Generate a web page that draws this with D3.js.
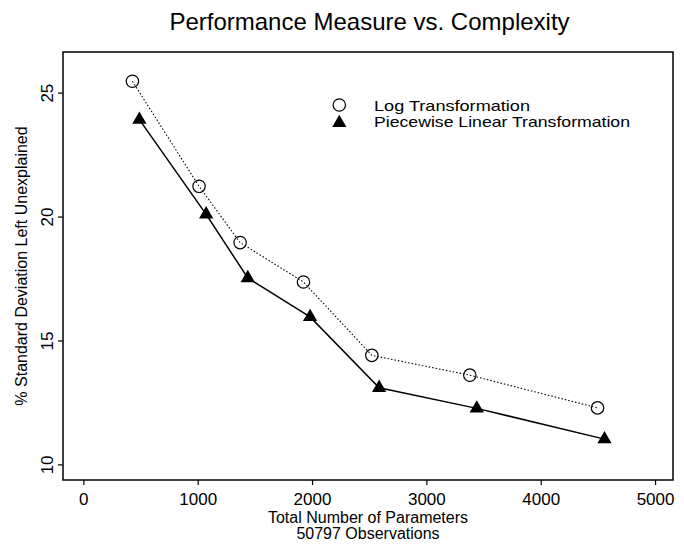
<!DOCTYPE html>
<html>
<head>
<meta charset="utf-8">
<script src="https://cdn.jsdelivr.net/npm/d3@7"></script>
<style>
  html, body { margin: 0; padding: 0; background: #fff; }
  svg { display: block; font-family: "Liberation Sans", Arial, Helvetica, sans-serif; }
</style>
</head>
<body>
<svg id="chart" width="684" height="544"></svg>
<script>
// Performance measure vs. complexity — two transformations compared

const xTicks = [0, 1000, 2000, 3000, 4000, 5000];
const yTicks = [10, 15, 20, 25];

// Log transformation (open circles, dotted line)
const logParams = [429, 1012, 1371, 1925, 2523, 3380, 4497];
const logSd = [25.46, 21.22, 18.95, 17.36, 14.40, 13.60, 12.28];

// Piecewise linear transformation (filled triangles, solid line)
const pwParams = [490, 1074, 1438, 1983, 2587, 3441, 4558];
const pwSd = [23.91, 20.09, 17.52, 15.95, 13.09, 12.26, 11.02];

const seriesNames = ["Log Transformation", "Piecewise Linear Transformation"];
const legendWidths = [156, 256]; // text runs are a bit condensed in the original

const svg = d3.select("#chart");
const margin = { top: 52, left: 63 };
const W = 610, H = 428;

const g = svg.append("g").attr("transform", `translate(${margin.left},${margin.top})`);

const x = d3.scaleLinear().domain([-178, 5157]).range([0, W]);
const y = d3.scaleLinear().domain([9.37, 26.64]).range([H, 0]);

// axes: ticks stick out of the box, labels below / rotated on the left
const xAxis = g.append("g").attr("transform", `translate(0,${H})`)
  .call(d3.axisBottom(x).tickValues(xTicks).tickFormat(d3.format("d"))
    .tickSize(5).tickPadding(8).tickSizeOuter(0));
xAxis.select(".domain").remove();
xAxis.selectAll("text").style("font-size", "17px").attr("fill", "#000");
xAxis.selectAll("line").attr("stroke", "#000").attr("stroke-width", 1.2);

const yAxis = g.append("g")
  .call(d3.axisLeft(y).tickValues(yTicks).tickSize(5).tickSizeOuter(0));
yAxis.select(".domain").remove();
yAxis.selectAll("line").attr("stroke", "#000").attr("stroke-width", 1.2);
yAxis.selectAll("text")
  .attr("x", 0).attr("dy", 0)
  .attr("text-anchor", "middle")
  .attr("transform", "translate(-10,0) rotate(-90)")
  .style("font-size", "17px").attr("fill", "#000");

// frame
g.append("rect").attr("width", W).attr("height", H)
  .attr("fill", "none").attr("stroke", "#000").attr("stroke-width", 1.5);

const logData = logParams.map((p, i) => ({ p, v: logSd[i] }));
const pwData = pwParams.map((p, i) => ({ p, v: pwSd[i] }));
const line = d3.line().x((d) => x(d.p)).y((d) => y(d.v));

g.append("path").datum(logData).attr("d", line)
  .attr("fill", "none").attr("stroke", "#000").attr("stroke-width", 1.1)
  .attr("stroke-dasharray", "1.5,2");
g.append("path").datum(pwData).attr("d", line)
  .attr("fill", "none").attr("stroke", "#000").attr("stroke-width", 1.5);

g.selectAll("circle.log").data(logData).join("circle").attr("class", "log")
  .attr("cx", (d) => x(d.p)).attr("cy", (d) => y(d.v)).attr("r", 6.2)
  .attr("fill", "none").attr("stroke", "#000").attr("stroke-width", 1.2);

const tri = d3.symbol().type(d3.symbolTriangle).size(88);
g.selectAll("path.pw").data(pwData).join("path").attr("class", "pw")
  .attr("d", tri).attr("transform", (d) => `translate(${x(d.p)},${y(d.v)})`)
  .attr("fill", "#000");

// legend
const lg = svg.append("g");
lg.append("circle").attr("cx", 339.3).attr("cy", 105).attr("r", 6.2)
  .attr("fill", "none").attr("stroke", "#000").attr("stroke-width", 1.2);
lg.append("path").attr("d", tri).attr("transform", "translate(339.3,123)").attr("fill", "#000");
seriesNames.forEach((s, i) => {
  lg.append("text").attr("x", 374).attr("y", 111 + i * 16)
    .attr("textLength", legendWidths[i]).attr("lengthAdjust", "spacingAndGlyphs")
    .style("font-size", "15px").attr("fill", "#000").text(s);
});

// titles
svg.append("text").attr("x", 369.5).attr("y", 30).attr("text-anchor", "middle")
  .style("font-size", "24px").attr("fill", "#000").text("Performance Measure vs. Complexity");

svg.append("text").attr("x", margin.left + W / 2).attr("y", 523).attr("text-anchor", "middle")
  .style("font-size", "16px").attr("fill", "#000").text("Total Number of Parameters");
svg.append("text").attr("x", margin.left + W / 2).attr("y", 539).attr("text-anchor", "middle")
  .style("font-size", "16px").attr("fill", "#000").text("50797 Observations");

svg.append("text").attr("transform", `translate(27,${margin.top + H / 2}) rotate(-90)`)
  .attr("text-anchor", "middle").style("font-size", "16px").attr("fill", "#000")
  .text("% Standard Deviation Left Unexplained");
</script>
</body>
</html>
